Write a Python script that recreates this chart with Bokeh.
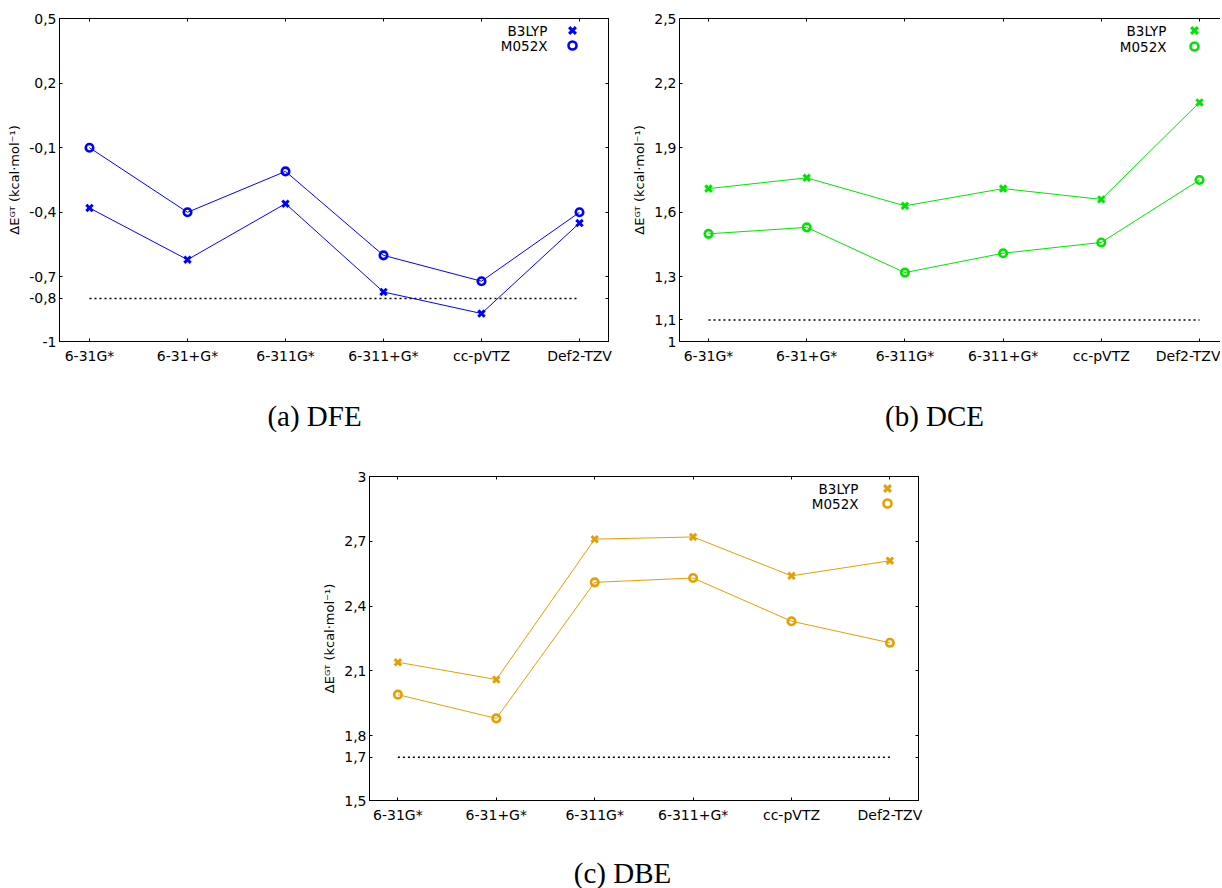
from bokeh.plotting import figure
from bokeh.models import (Range1d, LinearAxis, FixedTicker, Legend, LegendItem,
                          Label, Spacer, CustomJSTickFormatter)
from bokeh.layouts import row, column
from bokeh.embed import file_html
from bokeh.resources import INLINE

# ---------------- data ----------------
basis = ["6-31G*", "6-31+G*", "6-311G*", "6-311+G*", "cc-pVTZ", "Def2-TZV"]
methods = ["B3LYP", "M052X"]

dfe_b3lyp = [-0.38, -0.62, -0.36, -0.77, -0.87, -0.45]
dfe_m052x = [-0.10, -0.40, -0.21, -0.60, -0.72, -0.40]
dfe_ref = -0.8
dfe_ticks = [-1, -0.8, -0.7, -0.4, -0.1, 0.2, 0.5]
dfe_tick_labels = ["-1", "-0,8", "-0,7", "-0,4", "-0,1", "0,2", "0,5"]

dce_b3lyp = [1.71, 1.76, 1.63, 1.71, 1.66, 2.11]
dce_m052x = [1.50, 1.53, 1.32, 1.41, 1.46, 1.75]
dce_ref = 1.1
dce_ticks = [1, 1.1, 1.3, 1.6, 1.9, 2.2, 2.5]
dce_tick_labels = ["1", "1,1", "1,3", "1,6", "1,9", "2,2", "2,5"]

dbe_b3lyp = [2.14, 2.06, 2.71, 2.72, 2.54, 2.61]
dbe_m052x = [1.99, 1.88, 2.51, 2.53, 2.33, 2.23]
dbe_ref = 1.7
dbe_ticks = [1.5, 1.7, 1.8, 2.1, 2.4, 2.7, 3]
dbe_tick_labels = ["1,5", "1,7", "1,8", "2,1", "2,4", "2,7", "3"]

captions = ["(a) DFE", "(b) DCE", "(c) DBE"]
y_label = "ΔEᴳᵀ (kcal·mol⁻¹)"

SANS = "DejaVu Sans"
SERIF = "Liberation Serif"
FS = "14px"
FS_LEG = "13.5px"
FS_YLAB = "13px"


def fmt(ticks, labels):
    return CustomJSTickFormatter(
        args=dict(t=list(ticks), l=list(labels)),
        code="const i = t.findIndex(v => Math.abs(v - tick) < 1e-9); return i >= 0 ? l[i] : '';")


def blank():
    return CustomJSTickFormatter(code="return '';")


def style_axis(ax):
    ax.major_tick_in = 3
    ax.major_tick_out = 0
    ax.minor_tick_line_color = None
    ax.axis_line_color = "black"
    ax.axis_line_width = 1
    ax.major_tick_line_color = "black"
    ax.major_label_text_font = SANS
    ax.major_label_text_font_size = FS
    ax.major_label_text_color = "black"


def panel(b3, m05, ref, ticks, tick_labels, color,
          width, height, mb, xr, yr, outline, right_axis,
          leg_pos, lab_x, lab_y):
    p = figure(width=width, height=height, output_backend="svg",
               toolbar_location=None, x_range=Range1d(*xr), y_range=Range1d(*yr),
               min_border_left=mb[0], min_border_right=mb[1],
               min_border_top=mb[2], min_border_bottom=mb[3],
               x_axis_location=None, y_axis_location=None)
    p.xgrid.visible = False
    p.ygrid.visible = False
    p.background_fill_color = "white"
    p.border_fill_color = "white"
    if outline:
        p.outline_line_color = "black"
        p.outline_line_width = 1
        p.outline_line_alpha = 1
    else:
        p.outline_line_color = None

    xs = list(range(len(basis)))
    xt = FixedTicker(ticks=xs)
    yt = FixedTicker(ticks=list(ticks))

    left = LinearAxis(ticker=yt, formatter=fmt(ticks, tick_labels),
                      axis_label=y_label)
    style_axis(left)
    left.major_label_standoff = 3
    left.axis_label_standoff = 4
    left.axis_label_text_font = SANS
    left.axis_label_text_font_size = FS_YLAB
    left.axis_label_text_font_style = "normal"
    left.axis_label_text_color = "black"
    p.add_layout(left, "left")

    below = LinearAxis(ticker=xt, formatter=fmt(xs, basis))
    style_axis(below)
    below.major_label_standoff = 6
    p.add_layout(below, "below")

    above = LinearAxis(ticker=xt, formatter=blank())
    style_axis(above)
    above.major_label_standoff = 0
    p.add_layout(above, "above")

    if right_axis:
        right = LinearAxis(ticker=yt, formatter=blank())
        style_axis(right)
        right.major_label_standoff = 0
        p.add_layout(right, "right")

    # reference dotted line from first to last basis set
    p.line(x=[xs[0], xs[-1]], y=[ref, ref], line_color="black",
           line_width=1.5, line_dash="2 3")

    p.line(x=xs, y=b3, line_color=color, line_width=1)
    p.line(x=xs, y=m05, line_color=color, line_width=1)
    r_b3 = p.scatter(x=xs, y=b3, marker="x", size=9, line_color=color,
                     line_width=3)
    r_m05 = p.scatter(x=xs, y=m05, marker="circle", size=7.5, line_color=color,
                      fill_color=None, line_width=2.6)

    for r, (lx, ly, box) in zip([r_b3, r_m05], leg_pos):
        lg = Legend(items=[LegendItem(label=" ", renderers=[r])],
                    location=(lx, ly), orientation="vertical",
                    glyph_width=box, glyph_height=box, label_width=0,
                    label_height=box, label_standoff=0, spacing=0,
                    padding=0, margin=0,
                    border_line_color=None, background_fill_color=None,
                    label_text_font_size=FS_LEG, label_text_font=SANS)
        p.add_layout(lg, "center")

    for i, name in enumerate(methods):
        p.add_layout(Label(x=lab_x, y=lab_y[i], x_units="screen",
                           y_units="screen", text=name, text_align="right",
                           text_baseline="middle", text_font=SANS,
                           text_font_size=FS_LEG, text_color="black"))
    return p


def caption_fig(text, width, height, cx, base):
    c = figure(width=width, height=height, output_backend="svg",
               toolbar_location=None, min_border=0,
               x_axis_location=None, y_axis_location=None,
               x_range=Range1d(0, 1), y_range=Range1d(0, 1))
    c.xgrid.visible = False
    c.ygrid.visible = False
    c.outline_line_color = None
    c.add_layout(Label(x=cx, y=base, x_units="screen", y_units="screen",
                       text=text, text_align="center",
                       text_baseline="alphabetic", text_font=SERIF,
                       text_font_size="29px", text_color="black"))
    return c


pa = panel(dfe_b3lyp, dfe_m052x, dfe_ref, dfe_ticks, dfe_tick_labels,
           "#0000ff",
           width=620, height=392, mb=(59, 12, 18, 51),
           xr=(-30 / 98, 5 + 29 / 98), yr=(-1, 0.5),
           outline=True, right_axis=True,
           leg_pos=[(501, 299, 24), (503, 286, 20)],
           lab_x=488, lab_y=(311, 296))

pb = panel(dce_b3lyp, dce_m052x, dce_ref, dce_ticks, dce_tick_labels,
           "#00e400",
           width=600, height=392, mb=(59, 0, 18, 51),
           xr=(-29 / 98.2, (541 - 29) / 98.2), yr=(1, 2.5),
           outline=False, right_axis=False,
           leg_pos=[(503, 299, 24), (505, 285, 20)],
           lab_x=487, lab_y=(311, 295))

pc = panel(dbe_b3lyp, dbe_m052x, dbe_ref, dbe_ticks, dbe_tick_labels,
           "#e69f00",
           width=667, height=410, mb=(59, 59, 36, 50),
           xr=(-28.4 / 98.4, 5 + 28.6 / 98.4), yr=(1.5, 3),
           outline=True, right_axis=True,
           leg_pos=[(506, 300, 24), (508, 287, 20)],
           lab_x=489, lab_y=(312, 297))

ca = caption_fig(captions[0], 620, 48, 255, 25)
cb = caption_fig(captions[1], 600, 48, 255, 25)
cc = caption_fig(captions[2], 667, 38, 253, 16)

layout = column(row(column(pa, ca), column(pb, cb)),
                row(Spacer(width=310, height=448), column(pc, cc)))

open("out.html", "w").write(file_html(layout, INLINE))
